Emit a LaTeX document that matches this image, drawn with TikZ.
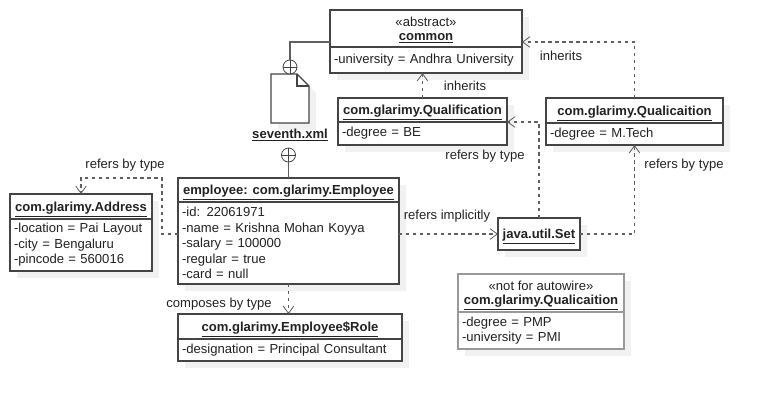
\documentclass[tikz,border=0pt]{standalone}
\usepackage{fontspec}
\setmainfont{Liberation Sans}
\usetikzlibrary{positioning,shadows,arrows.meta}
\definecolor{umlline}{HTML}{444444}
\definecolor{umllink}{HTML}{5F5F5F}
\definecolor{umltext}{HTML}{222222}
\definecolor{umlshade}{HTML}{F1F1F1}
\newcommand{\umlname}[1]{\underline{\textbf{#1}}}

\begin{document}
\begin{tikzpicture}[%
    x=0.75pt,
    y=-0.75pt,
    >={Straight Barb[length=5.5pt,width=8pt,line width=.6pt]},
    node distance=0pt,
    font=\fontsize{9.8}{11.6}\selectfont,
    text=umltext,
    umlshadow/.style={%
      general shadow={fill=umlshade,shadow xshift=5.25pt,shadow yshift=-5.25pt}
    },
    umlhead/.style={%
      rectangle,
      draw=umlline,
      line width=.8pt,
      fill=white,
      outer sep=0pt,
      inner sep=2pt,
      text depth=0pt,
      align=center,
      umlshadow
    },
    umlbody/.style={%
      umlhead,
      text depth=,
      align=left,
      text width=#1,
      minimum width=#1+6pt
    },
    umlpale/.style={draw=black!40},
    refers/.style={->,draw=umllink,line width=.8pt,dash pattern=on 2.6pt off 2.6pt},
    owns/.style={draw=umllink,line width=.8pt},
    ring/.style={%
      circle,
      draw=umlline,
      line width=.6pt,
      minimum size=10.5pt,
      inner sep=0pt,
      outer sep=0pt,
      fill=white,
      path picture={%
        \draw[umlline,line width=.6pt]
          (path picture bounding box.north) -- (path picture bounding box.south)
          (path picture bounding box.west) -- (path picture bounding box.east);
      }
    },
    reflabel/.style={inner sep=0pt}
  ]
    \useasboundingbox (0,0) rectangle (767,401);

    \node[umlhead,anchor=north west,minimum width=144pt,minimum height=27.75pt] (common) at (330,10)
      {«abstract»\\[-1pt]\umlname{common}};
    \node[umlbody=138pt,minimum height=19.5pt] (commonattr) [below=of common]
      {-university = Andhra University};

    \node[umlhead,anchor=north west,minimum width=126.75pt,minimum height=18pt] (qualification) at (338,98)
      {\umlname{com.glarimy.Qualification}};
    \node[umlbody=120.75pt,minimum height=17.25pt] (qualificationattr) [below=of qualification]
      {-degree = BE};

    \node[umlhead,anchor=north west,minimum width=132.75pt,minimum height=18.75pt] (qualicaition) at (546,98)
      {\umlname{com.glarimy.Qualicaition}};
    \node[umlbody=126.75pt,minimum height=16.5pt] (qualicaitionattr) [below=of qualicaition]
      {-degree = M.Tech};

    \node[umlhead,anchor=north west,minimum width=165.75pt,minimum height=18pt] (employee) at (178,178)
      {\umlname{employee: com.glarimy.Employee}};
    \node[umlbody=159.75pt,minimum height=61.5pt] (employeeattr) [below=of employee]
      {-id: 22061971\\-name = Krishna Mohan Koyya\\-salary = 100000\\-regular = true\\-card = null};

    \node[umlhead,anchor=north west,minimum width=106.5pt,minimum height=18.75pt] (address) at (10,194)
      {\umlname{com.glarimy.Address}};
    \node[umlbody=100.5pt,minimum height=39pt] (addressattr) [below=of address]
      {-location = Pai Layout\\-city = Bengaluru\\-pincode = 560016};

    \node[umlhead,anchor=north west,minimum width=168pt,minimum height=18.75pt] (role) at (178,314)
      {\umlname{com.glarimy.Employee\$Role}};
    \node[umlbody=162pt,minimum height=16.5pt] (roleattr) [below=of role]
      {-designation = Principal Consultant};

    \node[umlhead,anchor=north west,minimum width=61.5pt,minimum height=24pt] (set) at (498,218)
      {\umlname{java.util.Set}};

    \node[umlhead,umlpale,anchor=north west,minimum width=124.5pt,minimum height=28.5pt] (autowire) at (458,274)
      {«not for autowire»\\[-1pt]\umlname{com.glarimy.Qualicaition}};
    \node[umlbody=118.5pt,umlpale,minimum height=27.75pt] (autowireattr) [below=of autowire]
      {-degree = PMP\\-university = PMI};

    % the xml file
    \node[anchor=north west,minimum width=28.5pt,minimum height=36.75pt,inner sep=0pt,outer sep=0pt] (xmlfile) at (271,74) {};
    \draw[umlline,line width=.8pt,fill=white,umlshadow]
      (xmlfile.north west) -- ([xshift=-9pt]xmlfile.north east)
      -- ([yshift=-9pt]xmlfile.north east) -- (xmlfile.south east)
      -- (xmlfile.south west) -- cycle;
    \draw[umlline,line width=.8pt]
      ([xshift=-9pt]xmlfile.north east) -- ([xshift=-9pt,yshift=-9pt]xmlfile.north east)
      -- ([yshift=-9pt]xmlfile.north east);
    \node[ring] (xmlring) [above=of xmlfile] {};
    \node[inner sep=0pt] (xmlname) at (290,135) {\umlname{seventh.xml}};
    \node[ring] (employeering) [above=12pt of employee] {};

    \draw[owns] ([yshift=3.75pt]common.south west) -| (xmlring.north);
    \draw[owns] (employeering.south) -- (employee.north);

    \draw[refers] (qualification.north) -- (qualification.north |- commonattr.south);
    \draw[refers] (qualicaition.north) |- ([yshift=3.75pt]common.south east);
    \draw[refers] (set.north) |- (qualification.south east);
    \draw[refers] (set.east) -| (qualicaitionattr.south);
    \draw[refers] (employeeattr.east |- set.west) -- (set.west);
    \draw[refers] ([yshift=6.75pt]employeeattr.west) -- ++(-16,0) -- ++(0,-56) -| (address.north);
    \draw[refers] (employeeattr.south) -- (employeeattr.south |- role.north);

    \node[reflabel] (inheritsleft) at (465,86) {inherits};
    \node[reflabel] (inheritsright) at (561,56) {inherits};
    \node[reflabel] (typequalification) at (485,156) {refers by type};
    \node[reflabel] (typequalicaition) at (684,165) {refers by type};
    \node[reflabel] (typeaddress) at (125,165) {refers by type};
    \node[reflabel] (implicit) at (447,216) {refers implicitly};
    \node[reflabel] (composes) at (219,304) {composes by type};
  \end{tikzpicture}
\end{document}
